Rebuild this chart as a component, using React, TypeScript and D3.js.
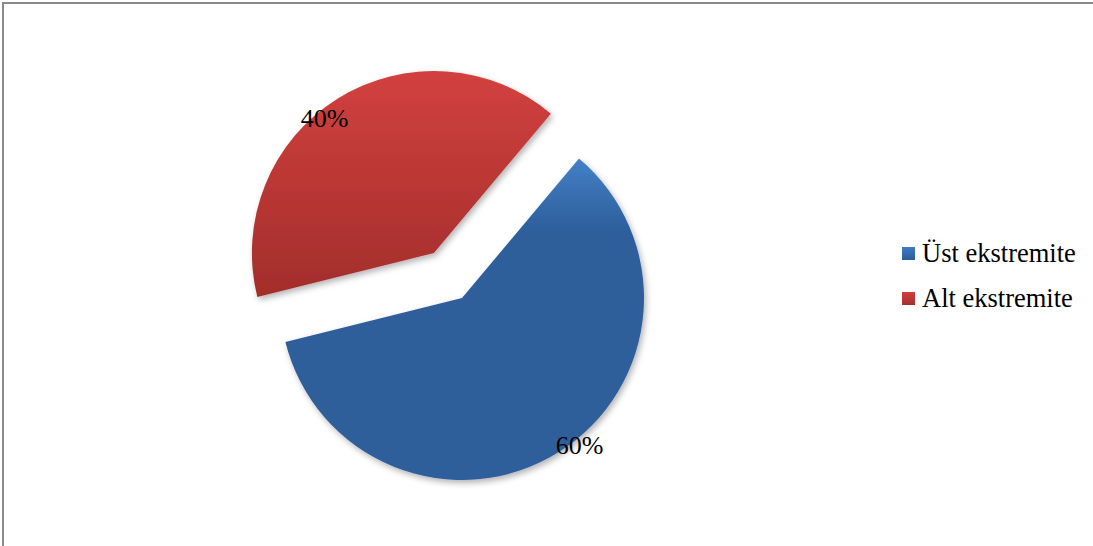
import React from "react";
import * as d3 from "d3";

const categories = ["Üst ekstremite", "Alt ekstremite"];
const values = [60, 40];
const labels = ["60%", "40%"];

const W = 1093;
const H = 546;
const cx = 462;
const cy = 298;
const R = 182;
const explode = [0, 53];
const startDeg = 40;
const labelFrac = [0.47, 0.45];
const labelRad = [189, 173];

// gradient stops in absolute page y
const sliceGrad = [
  { y1: 150, y2: 250, stops: [["0", "#4584cc"], ["0.8", "#2e5f9b"], ["1", "#2e5e9a"]] },
  { y1: 70, y2: 300, stops: [["0", "#d2413f"], ["1", "#a22d2b"]] },
];

export default function App() {
  const pie = d3
    .pie<number>()
    .sort(null)
    .value((d) => d)
    .startAngle((startDeg * Math.PI) / 180)
    .endAngle(((startDeg + 360) * Math.PI) / 180);
  const arcs = pie(values);
  const arc = d3.arc<d3.PieArcDatum<number>>().innerRadius(0).outerRadius(R);

  const offs = arcs.map((a, i) => {
    const mid = (a.startAngle + a.endAngle) / 2;
    return [cx + explode[i] * Math.sin(mid), cy - explode[i] * Math.cos(mid)];
  });

  const font = "'Liberation Serif', 'Times New Roman', serif";

  return (
    <div style={{ position: "absolute", left: 0, top: 0 }}>
      <svg width={W} height={H} style={{ display: "block" }}>
        <defs>
          {sliceGrad.map((g, i) => (
            <linearGradient
              key={i}
              id={`slice${i}`}
              gradientUnits="userSpaceOnUse"
              x1={0}
              y1={g.y1 - offs[i][1]}
              x2={0}
              y2={g.y2 - offs[i][1]}
            >
              {g.stops.map((s, j) => (
                <stop key={j} offset={s[0]} stopColor={s[1]} />
              ))}
            </linearGradient>
          ))}
          <linearGradient id="leg0" x1="0" y1="0" x2="0" y2="1">
            <stop offset="0" stopColor="#3f7cc4" />
            <stop offset="1" stopColor="#2c5c98" />
          </linearGradient>
          <linearGradient id="leg1" x1="0" y1="0" x2="0" y2="1">
            <stop offset="0" stopColor="#d0403e" />
            <stop offset="1" stopColor="#a52f2d" />
          </linearGradient>
          <filter id="shadow" x="-20%" y="-20%" width="140%" height="140%">
            <feDropShadow dx="2" dy="3" stdDeviation="3" floodColor="#000" floodOpacity="0.3" />
          </filter>
        </defs>
        <rect x={3} y={3} width={W + 20} height={H + 20} fill="#fff" stroke="#8a8a8a" strokeWidth={2} />
        {arcs.map((a, i) => (
          <g key={i} transform={`translate(${offs[i][0]},${offs[i][1]})`}>
            <path d={arc(a) || ""} fill={`url(#slice${i})`} filter="url(#shadow)" />
          </g>
        ))}
        {arcs.map((a, i) => {
          const la = a.startAngle + (a.endAngle - a.startAngle) * labelFrac[i];
          const lr = labelRad[i];
          const x = offs[i][0] + lr * Math.sin(la);
          const y = offs[i][1] - lr * Math.cos(la);
          return (
            <text key={i} x={x} y={y} textAnchor="middle" dominantBaseline="central" fontFamily={font} fontSize={26} fill="#000">
              {labels[i]}
            </text>
          );
        })}
        {categories.map((c, i) => (
          <g key={c} transform={`translate(902,${247 + i * 45})`}>
            <rect x={0} y={0} width={13} height={13} fill={`url(#leg${i})`} />
            <text x={20} y={15} fontFamily={font} fontSize={26.5} fill="#000">
              {c}
            </text>
          </g>
        ))}
      </svg>
    </div>
  );
}
